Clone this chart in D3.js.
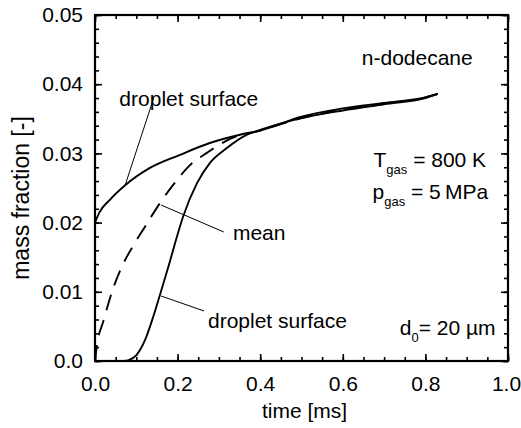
<!DOCTYPE html>
<meta charset="utf-8">
<script src="https://cdn.jsdelivr.net/npm/d3@7"></script>
<style>
  body { margin: 0; background: #fff; }
  text { font-family: "Liberation Sans", Arial, sans-serif; fill: #000; }
</style>
<div id="chart"></div>
<script>
  // droplet surface (upper curve)
  var surfTopT = [0, 0.01, 0.036, 0.073, 0.133, 0.206, 0.278, 0.351, 0.4, 0.5, 0.6, 0.7, 0.8, 0.83];
  var surfTopY = [0.0200, 0.0214, 0.0233, 0.0254, 0.0279, 0.0298, 0.0315, 0.0327, 0.0333, 0.0353, 0.0365, 0.0373, 0.0381, 0.0386];

  // mean (dashed)
  var meanT = [0, 0.005, 0.02, 0.044, 0.068, 0.097, 0.121, 0.157, 0.186, 0.23, 0.274, 0.327, 0.4, 0.5, 0.6, 0.7, 0.8, 0.83];
  var meanY = [0, 0.0024, 0.0057, 0.0105, 0.0140, 0.0171, 0.0194, 0.0228, 0.0252, 0.0283, 0.0302, 0.0321, 0.0333, 0.0351, 0.0363, 0.0372, 0.0381, 0.0386];

  // droplet surface (lower curve)
  var surfLowT = [0.07, 0.08, 0.101, 0.121, 0.141, 0.157, 0.18, 0.201, 0.213, 0.247, 0.278, 0.32, 0.368, 0.4, 0.5, 0.6, 0.7, 0.8, 0.83];
  var surfLowY = [0, 0.0001, 0.0009, 0.003, 0.0064, 0.0095, 0.0141, 0.0185, 0.0208, 0.0257, 0.0286, 0.0308, 0.0327, 0.0334, 0.0351, 0.0362, 0.0371, 0.0380, 0.0386];

  var xTicks = [0, 0.2, 0.4, 0.6, 0.8, 1.0];
  var yTicks = [0, 0.01, 0.02, 0.03, 0.04, 0.05];

  var margin = { top: 15, right: 13, bottom: 67, left: 95 },
    width = 521 - margin.left - margin.right,
    height = 428 - margin.top - margin.bottom;

  var svg = d3.select("#chart")
    .append("svg")
    .attr("width", 521)
    .attr("height", 428)
    .append("g")
    .attr("transform", "translate(" + margin.left + "," + margin.top + ")");

  var x = d3.scaleLinear().domain([0, 1]).range([0, width]);
  var y = d3.scaleLinear().domain([0, 0.05]).range([height, 0]);

  // minor ticks, all four sides, pointing inward
  function noLabel() { return ""; }
  svg.append("g").attr("transform", "translate(0," + height + ")")
    .call(d3.axisBottom(x).tickValues(x.ticks(20)).tickSizeInner(-4).tickSizeOuter(0).tickFormat(noLabel));
  svg.append("g")
    .call(d3.axisTop(x).tickValues(x.ticks(20)).tickSizeInner(-4).tickSizeOuter(0).tickFormat(noLabel));
  svg.append("g")
    .call(d3.axisLeft(y).tickValues(y.ticks(25)).tickSizeInner(-4).tickSizeOuter(0).tickFormat(noLabel));
  svg.append("g").attr("transform", "translate(" + width + ",0)")
    .call(d3.axisRight(y).tickValues(y.ticks(25)).tickSizeInner(-4).tickSizeOuter(0).tickFormat(noLabel));

  // major ticks
  svg.append("g").attr("class", "xaxis").attr("transform", "translate(0," + height + ")")
    .call(d3.axisBottom(x).tickValues(xTicks).tickSizeInner(-7).tickSizeOuter(0).tickPadding(15)
      .tickFormat(d3.format(".1f")));
  svg.append("g")
    .call(d3.axisTop(x).tickValues(xTicks).tickSizeInner(-7).tickSizeOuter(0).tickFormat(noLabel));
  svg.append("g").attr("class", "yaxis")
    .call(d3.axisLeft(y).tickValues(yTicks).tickSizeInner(-7).tickSizeOuter(0).tickPadding(12)
      .tickFormat(function (d) { return d === 0 ? "0.0" : d3.format(".2f")(d); }));
  svg.append("g").attr("transform", "translate(" + width + ",0)")
    .call(d3.axisRight(y).tickValues(yTicks).tickSizeInner(-7).tickSizeOuter(0).tickFormat(noLabel));

  svg.selectAll(".domain").remove();
  svg.selectAll(".tick line").attr("stroke", "#000").attr("stroke-width", 1.6);
  svg.selectAll(".tick text").style("font-size", "21px").attr("fill", "#000");
  // keep "1.0" inside the window
  svg.selectAll(".xaxis .tick text").filter(function (d) { return d === 1; }).attr("dx", -2);

  svg.append("rect")
    .attr("width", width).attr("height", height)
    .attr("fill", "none").attr("stroke", "#000").attr("stroke-width", 2.2);

  // curves
  var line = d3.line()
    .x(function (d) { return x(d[0]); })
    .y(function (d) { return y(d[1]); })
    .curve(d3.curveMonotoneX);

  function pairs(ts, vs) { return ts.map(function (t, i) { return [t, vs[i]]; }); }

  svg.append("path").datum(pairs(surfLowT, surfLowY))
    .attr("d", line).attr("fill", "none").attr("stroke", "#000").attr("stroke-width", 1.9);
  svg.append("path").datum(pairs(meanT, meanY))
    .attr("d", line).attr("fill", "none").attr("stroke", "#000").attr("stroke-width", 1.9)
    .attr("stroke-dasharray", "16,10");
  svg.append("path").datum(pairs(surfTopT, surfTopY))
    .attr("d", line).attr("fill", "none").attr("stroke", "#000").attr("stroke-width", 1.9);

  // leader lines (data units)
  var leaders = [
    [0.143, 0.03815, 0.073, 0.0254],
    [0.312, 0.01864, 0.160, 0.02254],
    [0.264, 0.00723, 0.160, 0.00939]
  ];
  svg.selectAll(".leader").data(leaders).enter().append("line")
    .attr("x1", function (d) { return x(d[0]); })
    .attr("y1", function (d) { return y(d[1]); })
    .attr("x2", function (d) { return x(d[2]); })
    .attr("y2", function (d) { return y(d[3]); })
    .attr("stroke", "#000").attr("stroke-width", 1);

  // labels
  function label(t, v, txt, anchor) {
    return svg.append("text")
      .attr("x", x(t)).attr("y", y(v))
      .attr("text-anchor", anchor || "start")
      .style("font-size", "21px")
      .text(txt);
  }
  label(0.059, 0.03685, "droplet surface");
  label(0.334, 0.01749, "mean");
  label(0.2736, 0.00477, "droplet surface");
  label(0.646, 0.04277, "n-dodecane");

  function subLabel(t, v, main, sub, rest) {
    var tx = svg.append("text")
      .attr("x", x(t)).attr("y", y(v))
      .attr("text-anchor", "end")
      .style("font-size", "21px");
    tx.append("tspan").text(main);
    tx.append("tspan").attr("dy", 7).style("font-size", "13px").text(sub);
    tx.append("tspan").attr("dy", -7).text(rest);
  }
  subLabel(0.947, 0.02803, "T", "gas", " = 800 K");
  subLabel(0.952, 0.02341, "p", "gas", " = 5\u2009MPa");
  subLabel(0.97, 0.00376, "d", "0", "= 20 \u00b5m");

  // axis titles
  svg.append("text")
    .attr("x", width / 2 + 3).attr("y", height + 57)
    .attr("text-anchor", "middle")
    .style("font-size", "21px")
    .text("time [ms]");

  svg.append("text")
    .attr("transform", "translate(" + (29 - margin.left) + "," + (y(0.025) + 10) + ") rotate(-90)")
    .attr("text-anchor", "middle")
    .style("font-size", "23px")
    .text("mass fraction [-]");
</script>
